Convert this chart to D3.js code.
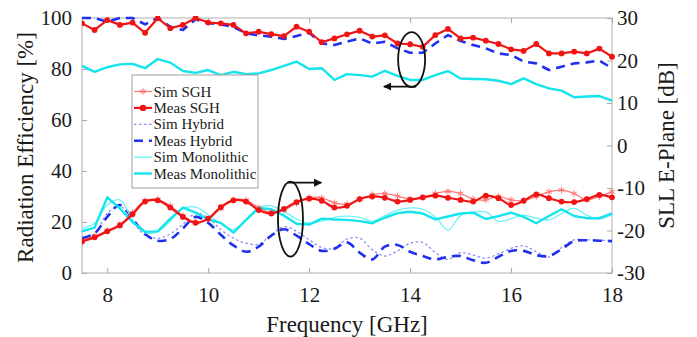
<!DOCTYPE html>
<html>
<head>
<meta charset="utf-8">
<script src="https://cdn.jsdelivr.net/npm/d3@7"></script>
<style>
  html, body { margin: 0; padding: 0; background: #fff; }
  svg { display: block; }
  text { font-family: "Liberation Serif", "Times New Roman", serif; fill: #1a1a1a; }
</style>
</head>
<body>
<svg id="chart" width="697" height="337"></svg>
<script>
// ---------------- DATA ----------------
const freqStart = 7.5, freqStep = 0.25;
const xTicks = [8, 10, 12, 14, 16, 18];
const leftTicks = [0, 20, 40, 60, 80, 100];
const rightTicks = [-30, -20, -10, 0, 10, 20, 30];

// Radiation efficiency [%] (left axis)
const effMeasSGH = [97.9, 95.3, 99.2, 97.3, 98.2, 94.2, 99.9, 96.0, 97.3, 100, 98.2, 97.9, 97.3, 94.0, 94.6,
  93.7, 92.9, 96.6, 94.6, 90.5, 92.0, 93.6, 95.0, 92.7, 93.2, 90.0, 89.7, 88.7, 93.3, 95.7,
  92.0, 92.3, 91.1, 89.8, 87.7, 87.1, 89.8, 86.1, 86.1, 86.8, 86.1, 88.0, 84.8];
const effMeasHybrid = [100, 100, 98.5, 100, 100, 97.5, 100, 96.5, 95.3, 99.5, 98.0, 97.5, 96.5, 94.0, 93.2,
  92.7, 91.8, 92.9, 94.2, 90.0, 89.4, 90.7, 92.0, 90.0, 90.7, 88.1, 86.4, 86.4, 90.0, 93.3,
  91.0, 89.4, 88.1, 86.1, 85.5, 82.9, 82.2, 79.6, 80.9, 82.2, 82.6, 83.3, 80.3];
const effMeasMono = [81.2, 78.9, 80.7, 81.8, 82.0, 80.3, 83.9, 82.5, 79.2, 78.5, 79.6, 77.6, 78.9, 78.0, 78.3,
  79.6, 81.2, 82.9, 80.0, 80.3, 75.7, 78.0, 77.6, 77.0, 79.3, 77.3, 75.7, 75.7, 77.6, 79.2,
  76.3, 76.1, 76.0, 75.4, 74.1, 76.3, 74.1, 72.4, 71.5, 68.9, 69.2, 69.4, 67.6];

// SLL E-plane [dB] (right axis)
const sllSimSGH = [-22.3, -21.3, -20.0, -18.5, -15.8, -13.0, -12.7, -14.2, -16.5, -18.0, -17.3, -14.8, -12.8, -12.9, -14.6,
  -15.8, -15.2, -13.6, -12.3, -12.3, -13.5, -13.8, -12.6, -11.6, -11.3, -11.9, -12.6, -12.3, -11.3, -10.8,
  -11.3, -12.6, -12.8, -12.0, -12.8, -13.0, -12.0, -10.9, -10.5, -11.3, -12.8, -12.0, -10.9];
const sllMeasSGH = [-22.6, -21.6, -20.2, -18.8, -16.2, -13.2, -12.9, -14.6, -16.8, -18.2, -17.2, -14.5, -12.9, -13.2, -15.2,
  -16.0, -14.9, -13.3, -12.5, -13.0, -14.6, -14.2, -12.6, -12.0, -12.3, -13.2, -12.8, -12.2, -11.8, -12.3,
  -12.8, -13.2, -11.8, -12.4, -14.0, -13.0, -11.5, -12.4, -13.2, -13.3, -12.6, -11.6, -12.2];
const sllSimHybrid = [-21.8, -20.8, -16.0, -14.2, -17.8, -21.1, -21.8, -20.8, -18.5, -16.0, -17.0, -19.8, -21.8, -23.0, -23.2,
  -21.0, -19.1, -20.2, -22.2, -24.0, -24.2, -22.0, -21.8, -24.5, -26.0, -24.8, -23.0, -22.8, -25.2, -26.8,
  -25.2, -25.8, -26.5, -25.5, -24.2, -23.6, -25.0, -26.2, -24.0, -22.2, -22.2, -22.3, -22.3];
const sllMeasHybrid = [-21.8, -20.7, -16.8, -14.0, -17.2, -20.8, -22.4, -22.0, -19.5, -16.8, -18.2, -21.0, -23.5, -25.0, -23.8,
  -21.2, -19.7, -21.2, -23.2, -24.8, -24.3, -22.8, -25.2, -26.8, -23.8, -23.4, -25.0, -26.0, -26.8, -26.2,
  -26.0, -27.0, -27.6, -26.2, -24.8, -24.8, -25.8, -26.0, -24.4, -22.5, -22.3, -22.4, -22.5];
const sllSimMono = [-19.5, -18.3, -14.0, -12.8, -17.5, -20.5, -20.3, -17.8, -14.8, -14.5, -16.3, -18.3, -19.8, -17.5, -14.6,
  -14.2, -15.5, -17.3, -18.2, -17.8, -16.9, -16.6, -16.9, -17.8, -16.5, -15.2, -14.7, -15.0, -16.8, -19.9,
  -16.5, -15.7, -15.6, -17.8, -17.2, -16.4, -17.1, -17.5, -16.0, -14.8, -16.4, -17.3, -16.3];
const sllMeasMono = [-20.2, -19.3, -12.2, -14.8, -18.0, -20.3, -20.2, -17.2, -14.6, -15.8, -17.4, -18.2, -20.5, -17.5, -14.7,
  -15.0, -16.5, -18.4, -18.6, -17.2, -17.4, -17.5, -17.8, -18.3, -17.0, -15.9, -15.6, -16.0, -17.4, -16.7,
  -16.0, -15.8, -17.3, -16.6, -15.8, -16.8, -18.3, -16.6, -15.0, -16.6, -17.1, -17.1, -16.0];

const legendLabels = ["Sim SGH", "Meas SGH", "Sim Hybrid", "Meas Hybrid", "Sim Monolithic", "Meas Monolithic"];

// ---------------- STYLES ----------------
const styles = {
  "Sim SGH":        { color: "#ff3a3a", width: 1.2, dash: null,  marker: "star", opacity: 0.7 },
  "Meas SGH":       { color: "#f01414", width: 2.2, dash: null,  marker: "dot",  opacity: 1 },
  "Sim Hybrid":     { color: "#8a8aff", width: 1.3, dash: "2.5,2.5", marker: null, opacity: 1 },
  "Meas Hybrid":    { color: "#2030ee", width: 2.6, dash: "9,6", marker: null, opacity: 1 },
  "Sim Monolithic": { color: "#6cf2f6", width: 1.3, dash: null,  marker: null, opacity: 1 },
  "Meas Monolithic":{ color: "#14e4ec", width: 2.4, dash: null,  marker: null, opacity: 1 }
};

// ---------------- LAYOUT ----------------
const svg = d3.select("#chart");
const W = 697, H = 337;
const plot = { left: 82, right: 612, top: 18, bottom: 273 };

const x = d3.scaleLinear().domain([7.5, 18]).range([plot.left, plot.right]);
const yL = d3.scaleLinear().domain([0, 100]).range([plot.bottom, plot.top]);
const yR = d3.scaleLinear().domain([-30, 30]).range([plot.bottom, plot.top]);

const freqs = d3.range(effMeasSGH.length).map(i => freqStart + i * freqStep);

svg.append("rect").attr("width", W).attr("height", H).attr("fill", "#fff");

// clip
svg.append("defs").append("clipPath").attr("id", "clip")
  .append("rect").attr("x", plot.left).attr("y", plot.top - 2)
  .attr("width", plot.right - plot.left + 3).attr("height", plot.bottom - plot.top + 2);

// Frame
svg.append("rect")
  .attr("x", plot.left).attr("y", plot.top)
  .attr("width", plot.right - plot.left).attr("height", plot.bottom - plot.top)
  .attr("fill", "none").attr("stroke", "#b0b0b0").attr("stroke-width", 1);

const tickFont = 21;
function styleAxis(g) {
  g.select(".domain").remove();
  g.selectAll(".tick line").attr("stroke", "#a8a8a8");
  g.selectAll(".tick text").attr("font-size", tickFont).attr("font-family", "Liberation Serif").attr("fill", "#1a1a1a");
}

// bottom axis (inward ticks)
svg.append("g").attr("transform", `translate(0,${plot.bottom})`)
  .call(d3.axisBottom(x).tickValues(xTicks).tickFormat(d3.format("d")).tickSizeInner(-5).tickSizeOuter(0).tickPadding(14))
  .call(styleAxis);
// top ticks
svg.append("g").attr("transform", `translate(0,${plot.top})`)
  .call(d3.axisTop(x).tickValues(xTicks).tickFormat("").tickSizeInner(-5).tickSizeOuter(0))
  .call(styleAxis);
// left axis
svg.append("g").attr("transform", `translate(${plot.left},0)`)
  .call(d3.axisLeft(yL).tickValues(leftTicks).tickFormat(d3.format("d")).tickSizeInner(-5).tickSizeOuter(0).tickPadding(10))
  .call(styleAxis);
// right axis
svg.append("g").attr("transform", `translate(${plot.right},0)`)
  .call(d3.axisRight(yR).tickValues(rightTicks).tickFormat(d => d < 0 ? "-" + Math.abs(d) : String(d)).tickSizeInner(-5).tickSizeOuter(0).tickPadding(5))
  .call(styleAxis);

// Axis titles
svg.append("text")
  .attr("transform", `translate(33,${(plot.top + plot.bottom) / 2 + 2}) rotate(-90)`)
  .attr("text-anchor", "middle").attr("font-size", 23)
  .text("Radiation Efficiency [%]");
svg.append("text")
  .attr("x", (plot.left + plot.right) / 2).attr("y", 332)
  .attr("text-anchor", "middle").attr("font-size", 23)
  .text("Frequency [GHz]");
svg.append("text")
  .attr("transform", `translate(674,${(plot.top + plot.bottom) / 2}) rotate(-90)`)
  .attr("text-anchor", "middle").attr("font-size", 23)
  .text("SLL E-Plane [dB]");

// ---------------- SERIES ----------------
const gData = svg.append("g").attr("clip-path", "url(#clip)");

function drawSeries(values, yScale, name, curve) {
  const st = styles[name];
  const pts = values.map((v, i) => [freqs[i], v]);
  const line = d3.line().x(d => x(d[0])).y(d => yScale(d[1])).curve(curve || d3.curveLinear);
  const g = gData.append("g").attr("opacity", st.opacity);
  g.append("path").datum(pts).attr("d", line)
    .attr("fill", "none").attr("stroke", st.color).attr("stroke-width", st.width)
    .attr("stroke-dasharray", st.dash).attr("stroke-linejoin", "round");
  if (st.marker === "dot") {
    g.selectAll("circle").data(pts).join("circle")
      .attr("cx", d => x(d[0])).attr("cy", d => yScale(d[1])).attr("r", 2.9).attr("fill", st.color);
  } else if (st.marker === "star") {
    const sym = d3.symbol().type(d3.symbolAsterisk).size(30);
    g.selectAll("path.m").data(pts).join("path").attr("class", "m")
      .attr("transform", d => `translate(${x(d[0])},${yScale(d[1])})`)
      .attr("d", sym).attr("fill", "none").attr("stroke", st.color).attr("stroke-width", 1);
  }
}

// Efficiency curves
drawSeries(effMeasMono, yL, "Meas Monolithic");
drawSeries(effMeasHybrid, yL, "Meas Hybrid");
drawSeries(effMeasSGH, yL, "Meas SGH");

// SLL curves
const smooth = d3.curveCatmullRom.alpha(0.5);
drawSeries(sllSimHybrid, yR, "Sim Hybrid", smooth);
drawSeries(sllMeasHybrid, yR, "Meas Hybrid", smooth);
drawSeries(sllSimMono, yR, "Sim Monolithic", smooth);
drawSeries(sllMeasMono, yR, "Meas Monolithic");
drawSeries(sllSimSGH, yR, "Sim SGH", smooth);
drawSeries(sllMeasSGH, yR, "Meas SGH", smooth);

// ---------------- ANNOTATIONS ----------------
const ann = svg.append("g");
svg.select("defs").append("marker").attr("id", "arrow")
  .attr("viewBox", "0 0 10 10").attr("refX", 9).attr("refY", 5)
  .attr("markerWidth", 9).attr("markerHeight", 8).attr("markerUnits", "userSpaceOnUse")
  .attr("orient", "auto")
  .append("path").attr("d", "M0,0 L10,5 L0,10 z").attr("fill", "#111");

// left-pointing (efficiency -> left axis)
ann.append("ellipse").attr("cx", x(14.03)).attr("cy", yL(83.7)).attr("rx", 13.5).attr("ry", 27.5)
  .attr("fill", "none").attr("stroke", "#111").attr("stroke-width", 1.8);
ann.append("line").attr("x1", x(14.12)).attr("y1", yL(73.1)).attr("x2", x(13.48)).attr("y2", yL(73.1))
  .attr("stroke", "#111").attr("stroke-width", 1.8).attr("marker-end", "url(#arrow)");
// right-pointing (SLL -> right axis)
ann.append("ellipse").attr("cx", x(11.63)).attr("cy", yR(-17.3)).attr("rx", 12.5).attr("ry", 37.5)
  .attr("fill", "none").attr("stroke", "#111").attr("stroke-width", 1.8);
ann.append("line").attr("x1", x(11.58)).attr("y1", yR(-8.75)).attr("x2", x(12.24)).attr("y2", yR(-8.75))
  .attr("stroke", "#111").attr("stroke-width", 1.8).attr("marker-end", "url(#arrow)");

// ---------------- LEGEND ----------------
const lg = svg.append("g");
lg.append("rect").attr("x", 132).attr("y", 75).attr("width", 126).attr("height", 113)
  .attr("fill", "#fff").attr("stroke", "#a0a0a0").attr("stroke-width", 1);
legendLabels.forEach((name, i) => {
  const st = styles[name];
  const cy = 91.5 + i * 16.4;
  const g = lg.append("g").attr("opacity", st.opacity);
  g.append("line").attr("x1", 134).attr("x2", 152).attr("y1", cy).attr("y2", cy)
    .attr("stroke", st.color).attr("stroke-width", st.width).attr("stroke-dasharray", st.dash);
  if (st.marker === "dot") {
    g.append("circle").attr("cx", 143).attr("cy", cy).attr("r", 3.2).attr("fill", st.color);
  } else if (st.marker === "star") {
    g.append("path").attr("transform", `translate(143,${cy})`)
      .attr("d", d3.symbol().type(d3.symbolAsterisk).size(30)).attr("fill", "none")
      .attr("stroke", st.color).attr("stroke-width", 1);
  }
  lg.append("text").attr("x", 153.5).attr("y", cy + 5).attr("font-size", 15).text(name);
});
</script>
</body>
</html>
